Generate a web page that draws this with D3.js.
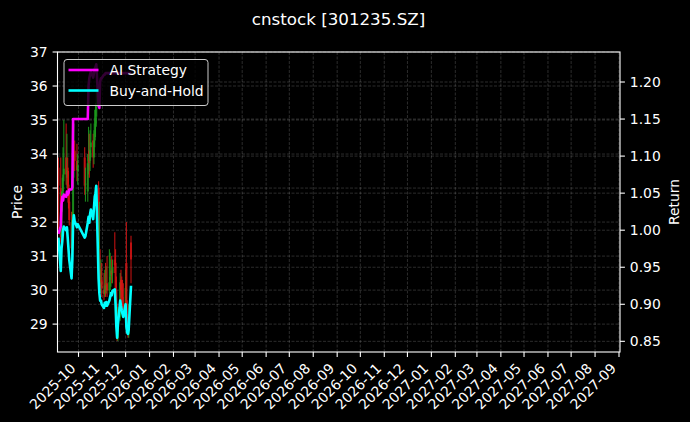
<!DOCTYPE html>
<html>
<head>
<meta charset="utf-8">
<script src="https://cdn.jsdelivr.net/npm/d3@7"></script>
<style>
  html, body { margin: 0; padding: 0; background: #000; }
  svg text { font-family: "DejaVu Sans", sans-serif; fill: #fff; }
</style>
</head>
<body>
<script>
// trading days shown on the chart
var dates = [
  "2025-09-05","2025-09-08","2025-09-09","2025-09-10","2025-09-11","2025-09-12",
  "2025-09-15","2025-09-16","2025-09-17","2025-09-18","2025-09-19",
  "2025-09-22","2025-09-23","2025-09-24","2025-09-25","2025-09-26",
  "2025-09-29","2025-09-30",
  "2025-10-09","2025-10-10",
  "2025-10-13","2025-10-14","2025-10-15","2025-10-16","2025-10-17",
  "2025-10-20","2025-10-21","2025-10-22","2025-10-23","2025-10-24",
  "2025-10-27","2025-10-28","2025-10-29","2025-10-30","2025-10-31",
  "2025-11-03","2025-11-04","2025-11-05","2025-11-06","2025-11-07",
  "2025-11-10","2025-11-11","2025-11-12","2025-11-13","2025-11-14",
  "2025-11-17","2025-11-18","2025-11-19","2025-11-20","2025-11-21",
  "2025-11-24","2025-11-25","2025-11-26","2025-11-27","2025-11-28",
  "2025-12-01","2025-12-02","2025-12-03","2025-12-04","2025-12-05","2025-12-08"
];

var open = [
  33.6,33.0,31.6,32.6,32.9,33.4,
  33.9,33.3,33.6,33.1,32.6,
  32.0,31.2,32.1,33.8,34.1,
  33.8,33.5,
  33.9,33.1,
  32.9,33.8,34.1,33.8,34.2,
  34.4,33.9,34.4,34.9,35.1,
  33.0,30.2,30.6,30.1,30.3,
  30.0,29.9,30.2,30.0,30.2,
  30.0,30.3,30.4,30.6,30.5,
  30.9,30.8,30.0,29.1,28.6,
  29.2,30.3,30.0,29.8,29.6,
  29.5,30.8,29.1,28.8,28.7,31.4
];
var high = [
  33.9,33.9,32.9,33.3,34.2,35.0,
  34.9,34.6,33.9,33.5,33.0,
  32.3,32.3,34.3,34.9,34.4,
  34.3,34.0,
  34.2,33.6,
  34.0,34.8,34.6,34.7,34.9,
  34.6,34.7,35.3,35.5,35.9,
  33.2,32.6,31.2,30.9,30.8,
  30.5,30.6,30.8,30.7,31.0,
  31.2,31.1,30.9,31.0,30.9,
  31.7,31.2,30.4,29.6,29.5,
  30.5,30.6,30.4,30.3,30.2,
  30.6,32.0,29.7,29.3,29.6,31.6
];
var low = [
  31.8,31.4,31.4,32.3,32.7,33.2,
  33.1,33.0,32.8,32.4,31.9,
  31.0,30.9,32.0,33.3,33.5,
  33.2,33.1,
  32.8,32.6,
  32.6,33.4,33.3,33.5,33.9,
  33.6,33.7,34.2,34.5,34.8,
  31.0,30.0,29.9,29.9,29.8,
  29.7,29.8,29.8,29.9,29.8,
  29.9,30.0,30.1,30.2,30.2,
  30.5,29.9,28.9,28.5,28.5,
  29.1,29.7,29.5,29.4,29.3,
  29.4,28.9,28.7,28.6,28.6,30.2
];
var close = [
  33.07,31.56,32.57,32.90,33.40,33.57,
  33.40,33.53,33.07,32.57,32.06,
  31.23,32.06,33.73,34.07,33.80,
  33.53,33.67,
  33.07,33.13,
  33.73,34.00,33.73,34.13,34.34,
  33.90,34.40,34.90,35.07,35.40,
  31.23,30.56,30.23,30.23,30.06,
  29.89,30.13,29.99,30.16,29.99,
  30.23,30.39,30.56,30.46,30.66,
  30.73,30.06,29.06,28.56,29.12,
  30.23,29.99,29.79,29.63,29.49,
  30.06,29.06,28.79,28.72,28.92,30.90
];

// cumulative returns (right axis)
var aiStrategy = [
  0.995,1.005,1.035,1.045,1.040,1.048,
  1.045,1.052,1.048,1.050,1.055,
  1.055,1.058,1.150,1.150,1.150,
  1.150,1.150,
  1.150,1.150,
  1.150,1.195,1.205,1.210,1.214,
  1.206,1.212,1.218,1.220,1.224,
  1.168,1.165,1.200,1.205,1.205,
  1.210,1.210,1.212,1.212,1.212,
  1.212,1.212,1.212,1.212,1.212,
  1.212,1.212,1.212,1.212,1.212,
  1.212,1.212,1.212,1.212,1.212,
  1.212,1.212,1.212,1.212,1.212,1.212
];
var buyHold = [
  0.990,0.945,0.975,0.985,1.000,1.005,
  1.000,1.004,0.990,0.975,0.960,
  0.935,0.960,1.010,1.020,1.012,
  1.004,1.008,
  0.990,0.992,
  1.010,1.018,1.010,1.022,1.028,
  1.015,1.030,1.045,1.050,1.060,
  0.935,0.915,0.905,0.905,0.900,
  0.895,0.902,0.898,0.903,0.898,
  0.905,0.910,0.915,0.912,0.918,
  0.920,0.900,0.870,0.855,0.872,
  0.905,0.898,0.892,0.887,0.883,
  0.900,0.870,0.862,0.860,0.866,0.925
];

var priceTicks = [29, 30, 31, 32, 33, 34, 35, 36, 37];
var returnTicks = [0.85, 0.90, 0.95, 1.00, 1.05, 1.10, 1.15, 1.20];
var seriesNames = ["AI Strategy", "Buy-and-Hold"];
var seriesColors = ["#ff00ff", "#00ffff"];

var width = 690, height = 422;
var plot = {left: 57.5, right: 620, top: 52, bottom: 352};

var parse = d3.timeParse("%Y-%m-%d");
var rows = dates.map(function(d, i) {
  return {date: parse(d), o: open[i], h: high[i], l: low[i], c: close[i],
          ai: aiStrategy[i], bh: buyHold[i]};
});

var x = d3.scaleTime()
  .domain([new Date(2025, 8, 3, 19), new Date(2027, 8, 2, 7)])
  .range([plot.left, plot.right]);
var yPrice = d3.scaleLinear().domain([28.18, 37.0]).range([plot.bottom, plot.top]);
var yRet = d3.scaleLinear().domain([0.8356, 1.2405]).range([plot.bottom, plot.top]);

var svg = d3.select("body").append("svg")
  .attr("width", width)
  .attr("height", height)
  .style("display", "block")
  .style("background", "#000");

svg.append("clipPath").attr("id", "clip")
  .append("rect")
  .attr("x", plot.left).attr("y", plot.top)
  .attr("width", plot.right - plot.left).attr("height", plot.bottom - plot.top);

var monthTicks = x.ticks(d3.timeMonth.every(1));

// grid lines (both y axes + months)
var grid = svg.append("g")
  .attr("stroke", "#fff")
  .attr("stroke-opacity", 0.22)
  .attr("stroke-width", 0.8)
  .attr("stroke-dasharray", "3,1.5");
grid.selectAll(".gx").data(monthTicks).enter().append("line")
  .attr("x1", function(d) { return x(d); }).attr("x2", function(d) { return x(d); })
  .attr("y1", plot.top).attr("y2", plot.bottom);
grid.selectAll(".gy").data(priceTicks).enter().append("line")
  .attr("x1", plot.left).attr("x2", plot.right)
  .attr("y1", function(d) { return yPrice(d); }).attr("y2", function(d) { return yPrice(d); });
grid.selectAll(".gr").data(returnTicks).enter().append("line")
  .attr("x1", plot.left).attr("x2", plot.right)
  .attr("y1", function(d) { return yRet(d); }).attr("y2", function(d) { return yRet(d); });

var chart = svg.append("g").attr("clip-path", "url(#clip)");

// candlesticks
var candle = chart.selectAll(".candle").data(rows).enter().append("g")
  .attr("opacity", 0.85);
candle.append("line")
  .attr("x1", function(d) { return x(d.date); })
  .attr("x2", function(d) { return x(d.date); })
  .attr("y1", function(d) { return yPrice(d.h); })
  .attr("y2", function(d) { return yPrice(d.l); })
  .attr("stroke", function(d) { return d.c >= d.o ? "#1fa01f" : "#e01515"; })
  .attr("stroke-width", 1.1);
candle.append("rect")
  .attr("x", function(d) { return x(d.date) - 1; })
  .attr("width", 2)
  .attr("y", function(d) { return yPrice(Math.max(d.o, d.c)); })
  .attr("height", function(d) { return Math.max(0.8, Math.abs(yPrice(d.o) - yPrice(d.c))); })
  .attr("fill", function(d) { return d.c >= d.o ? "#1fa01f" : "#e01515"; });

// return lines
var aiLine = d3.line().x(function(d) { return x(d.date); }).y(function(d) { return yRet(d.ai); });
var bhLine = d3.line().x(function(d) { return x(d.date); }).y(function(d) { return yRet(d.bh); });
chart.append("path").datum(rows)
  .attr("d", aiLine).attr("fill", "none")
  .attr("stroke", seriesColors[0]).attr("stroke-width", 2.6).attr("stroke-linejoin", "round");
chart.append("path").datum(rows)
  .attr("d", bhLine).attr("fill", "none")
  .attr("stroke", seriesColors[1]).attr("stroke-width", 2.6).attr("stroke-linejoin", "round");

// frame
svg.append("rect")
  .attr("x", plot.left).attr("y", plot.top)
  .attr("width", plot.right - plot.left).attr("height", plot.bottom - plot.top)
  .attr("fill", "none").attr("stroke", "#fff").attr("stroke-width", 1.1);

// left axis
var leftAxis = svg.append("g");
leftAxis.selectAll("line").data(priceTicks).enter().append("line")
  .attr("x1", plot.left - 4.9).attr("x2", plot.left)
  .attr("y1", function(d) { return yPrice(d); }).attr("y2", function(d) { return yPrice(d); })
  .attr("stroke", "#fff").attr("stroke-width", 1.1);
leftAxis.selectAll("text").data(priceTicks).enter().append("text")
  .attr("x", plot.left - 9.8)
  .attr("y", function(d) { return yPrice(d); })
  .attr("dy", "0.36em")
  .attr("text-anchor", "end")
  .style("font-size", "13.9px")
  .text(function(d) { return d; });

// right axis
var rightAxis = svg.append("g");
rightAxis.selectAll("line").data(returnTicks).enter().append("line")
  .attr("x1", plot.right).attr("x2", plot.right + 4.9)
  .attr("y1", function(d) { return yRet(d); }).attr("y2", function(d) { return yRet(d); })
  .attr("stroke", "#fff").attr("stroke-width", 1.1);
rightAxis.selectAll("text").data(returnTicks).enter().append("text")
  .attr("x", plot.right + 9.8)
  .attr("y", function(d) { return yRet(d); })
  .attr("dy", "0.36em")
  .style("font-size", "13.9px")
  .text(function(d) { return d3.format(".2f")(d); });

// bottom axis with rotated month labels
var fmt = d3.timeFormat("%Y-%m");
var bottomAxis = svg.append("g");
bottomAxis.selectAll("line").data(monthTicks).enter().append("line")
  .attr("x1", function(d) { return x(d); }).attr("x2", function(d) { return x(d); })
  .attr("y1", plot.bottom).attr("y2", plot.bottom + 4.9)
  .attr("stroke", "#fff").attr("stroke-width", 1.1);
bottomAxis.selectAll("text").data(monthTicks).enter().append("text")
  .attr("transform", function(d) {
    return "translate(" + (x(d) - 2) + "," + (plot.bottom + 17.3) + ") rotate(-45)";
  })
  .attr("text-anchor", "end")
  .style("font-size", "13.9px")
  .text(function(d) { return fmt(d); });

// axis labels and title
svg.append("text")
  .attr("transform", "translate(22," + ((plot.top + plot.bottom) / 2) + ") rotate(-90)")
  .attr("text-anchor", "middle")
  .style("font-size", "13.9px")
  .text("Price");
svg.append("text")
  .attr("transform", "translate(679," + ((plot.top + plot.bottom) / 2) + ") rotate(-90)")
  .attr("text-anchor", "middle")
  .style("font-size", "13.9px")
  .text("Return");
svg.append("text")
  .attr("x", 338.5).attr("y", 25)
  .attr("text-anchor", "middle")
  .style("font-size", "16.7px")
  .text("cnstock [301235.SZ]");

// legend
var legend = svg.append("g");
legend.append("rect")
  .attr("x", 64).attr("y", 59.5)
  .attr("width", 144).attr("height", 46)
  .attr("rx", 3)
  .attr("fill", "#000").attr("fill-opacity", 0.8)
  .attr("stroke", "#cccccc").attr("stroke-width", 1);
var item = legend.selectAll(".item").data(seriesNames).enter().append("g")
  .attr("transform", function(d, i) { return "translate(0," + (70 + i * 20.5) + ")"; });
item.append("line")
  .attr("x1", 68.5).attr("x2", 98.5)
  .attr("stroke", function(d, i) { return seriesColors[i]; })
  .attr("stroke-width", 2.6);
item.append("text")
  .attr("x", 109.5).attr("dy", "0.36em")
  .style("font-size", "13.9px")
  .text(function(d) { return d; });
</script>
</body>
</html>
